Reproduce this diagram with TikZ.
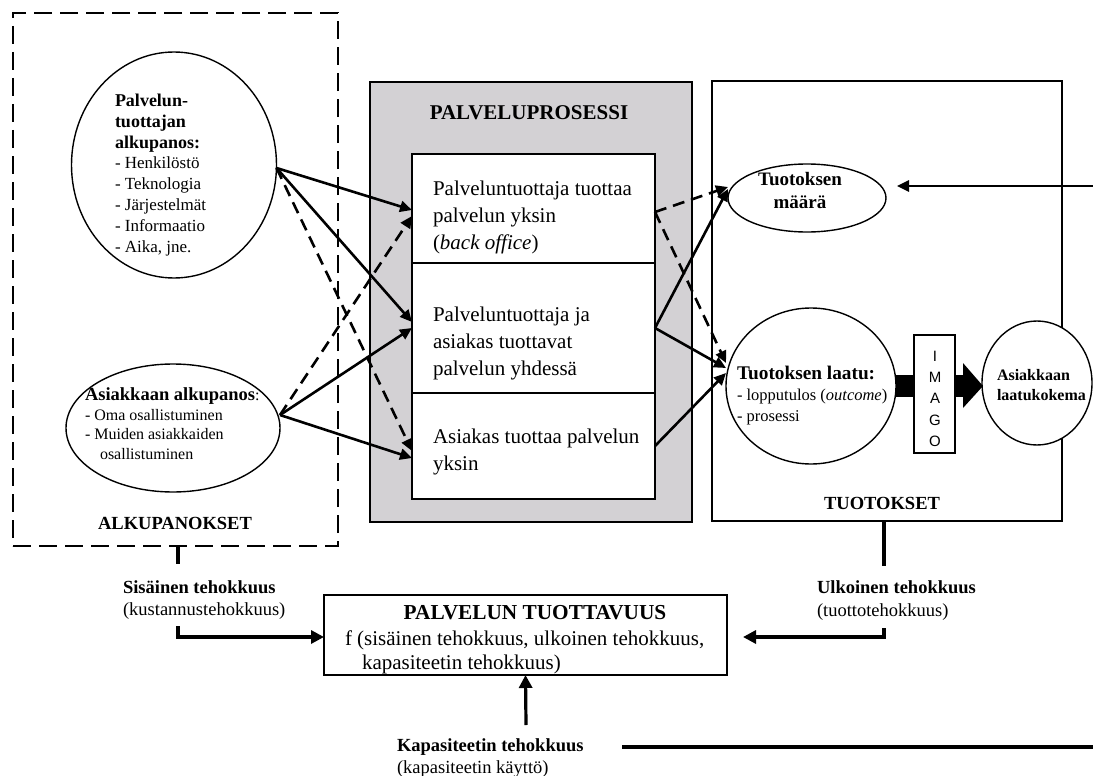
\documentclass[tikz,border=0pt]{standalone}
\usepackage{fontspec}
\setmainfont{Liberation Serif}
\newfontfamily\imagofont{Liberation Sans}
\usetikzlibrary{arrows.meta,shapes.geometric}
\definecolor{procgray}{RGB}{211,209,212}
\newcommand{\fsz}[2]{\fontsize{#1}{#2}\selectfont}
\begin{document}
\begin{tikzpicture}[x=1pt,y=-1pt,
  every node/.style={inner sep=0pt, outer sep=0pt},
  boxnode/.style={draw, rectangle, fill=white, line width=1.4pt},
  ell/.style={draw, ellipse, line width=1.4pt, fill=white, inner sep=0pt},
  conn/.style={line width=2.6pt, -{Triangle[length=12pt,width=11pt]}},
  dconn/.style={conn, dash pattern=on 12pt off 7pt},
  eff/.style={line width=3.2pt},
  effarrow/.style={eff, -{Triangle[length=13pt,width=13pt]}},
  lblb/.style={font=\fsz{18.5}{22}\bfseries, anchor=base west},
  lblr/.style={font=\fsz{18.5}{22}, anchor=base west},
  boxtext/.style={font=\fsz{21}{27}, anchor=north west, align=left},
]
\useasboundingbox (0,0) rectangle (1093,776);

% containers
\node[draw, rectangle, line width=2pt, dash pattern=on 18pt off 8pt,
      minimum width=325pt, minimum height=533pt] (alk) at (175.5,279.5) {};
\node[draw, rectangle, fill=procgray, line width=2pt,
      minimum width=322pt, minimum height=440pt] (proc) at (531,302) {};
\node[boxnode, minimum width=243pt, minimum height=109pt] (box1) at (533.5,208.5) {};
\node[boxnode, minimum width=243pt, minimum height=130pt] (box2) at (533.5,328) {};
\node[boxnode, minimum width=243pt, minimum height=106pt] (box3) at (533.5,446) {};
\node[draw, rectangle, line width=1.8pt,
      minimum width=350pt, minimum height=440pt] (tuot) at (887,301) {};

% ellipses
\node[ell, minimum width=205pt, minimum height=226pt] (e1) at (174,165) {};
\node[ell, minimum width=214pt, minimum height=128pt] (e2) at (173,428) {};
\node[ell, minimum width=158pt, minimum height=68pt] (maara) at (807,198) {};
\node[ell, minimum width=170pt, minimum height=156pt] (laatu) at (811,386) {};

% thick arrow through IMAGO
\fill (896,375) rectangle (964,397);
\fill (963,363) -- (983,386) -- (963,408) -- cycle;
\node[boxnode, minimum width=41pt, minimum height=118pt] (imago) at (934.5,394) {};
\node[ell, minimum width=110pt, minimum height=124pt] (lk) at (1037,383) {};

\node[draw, rectangle, line width=2.4pt, minimum width=403pt, minimum height=80pt] (prod) at (525.5,635) {};

% coordinates for free ends
\coordinate (rin) at (1093,186);
\coordinate (sstub) at (178,564);
\coordinate (sstart) at (178,626);
\coordinate (ustub) at (884,566);
\coordinate (ustart) at (884,628);
\coordinate (kstart) at (526,725);
\coordinate (kl1) at (622,747);
\coordinate (kl2) at (1093,747);

% left connectors
\draw[conn]  ([yshift=-3pt]e1.east) -- ([yshift=-1.5pt]box1.west);
\draw[conn]  ([yshift=-3pt]e1.east) -- ([yshift=6pt]box2.west);
\draw[dconn] ([yshift=-3pt]e1.east) -- ([yshift=-5pt]box3.west);
\draw[dconn] ([yshift=13pt]e2.east) -- ([yshift=-7.5pt]box1.west);
\draw[conn]  ([yshift=13pt]e2.east) -- (box2.west);
\draw[conn]  ([yshift=13pt]e2.east) -- ([yshift=-12pt]box3.west);

% right connectors
\draw[dconn] ([yshift=-3.5pt]box1.east) -- ([yshift=11pt]maara.west);
\draw[dconn] ([yshift=-3.5pt]box1.east) -- ([yshift=23pt]laatu.west);
\draw[conn]  (box2.east) -- ([yshift=9pt]maara.west);
\draw[conn]  (box2.east) -- ([yshift=18pt]laatu.west);
\draw[conn]  (box3.east) -- ([yshift=13pt]laatu.west);
\draw[conn]  (rin) -- ([xshift=11pt,yshift=12pt]maara.east);

% efficiency connectors
\draw[eff] ([xshift=2.5pt]alk.south) -- (sstub);
\draw[effarrow] (sstart) |- ([yshift=-2pt]prod.west);
\draw[eff] ([xshift=-3pt]tuot.south) -- (ustub);
\draw[effarrow] (ustart) |- ([xshift=16pt,yshift=-2pt]prod.east);
\draw[effarrow] (kstart) -- (prod.south);
\draw[eff] (kl1) -- (kl2);

% texts
\node[font=\fsz{21}{24}\bfseries, anchor=base] (ttl) at (529,120) {PALVELUPROSESSI};
\node[font=\fsz{18.5}{22}\bfseries, anchor=base] (alkt) at (175,529) {ALKUPANOKSET};
\node[font=\fsz{18.5}{22}\bfseries, anchor=base] (tuott) at (882,509) {TUOTOKSET};

\node[font=\fsz{17}{20.8}, anchor=north west, align=left] (te1) at (115,94)
  {{\fsz{18}{20.8}\bfseries Palvelun-}\\ {\fsz{18}{20.8}\bfseries tuottajan}\\ {\fsz{18}{20.8}\bfseries alkupanos:}\\
   - Henkilöstö\\ - Teknologia\\ - Järjestelmät\\ - Informaatio\\ - Aika, jne.};
\node[font=\fsz{16}{19.5}, anchor=north west, align=left] (te2) at (85,388)
  {{\fsz{18.5}{19.5}\bfseries Asiakkaan alkupanos}:\\ - Oma osallistuminen\\ - Muiden asiakkaiden\\ \hspace*{15pt}osallistuminen};

\node[boxtext] (tb1) at (433,181) {Palveluntuottaja tuottaa\\ palvelun yksin\\ (\textit{back office})};
\node[boxtext] (tb2) at (433,307) {Palveluntuottaja ja\\ asiakas tuottavat\\ palvelun yhdessä};
\node[boxtext] (tb3) at (433,429) {Asiakas tuottaa palvelun\\ yksin};

\node[font=\fsz{19}{23.5}\bfseries, anchor=north, align=center] (tm) at (800,172) {Tuotoksen\\ määrä};
\node[font=\fsz{16.5}{21}, anchor=north west, align=left] (tl) at (737,366)
  {{\fsz{19.3}{21}\bfseries Tuotoksen laatu:}\\ - lopputulos (\textit{outcome})\\ - prosessi};
\node[font=\fsz{16}{20}\bfseries, anchor=north west, align=left] (tlk) at (997,369) {Asiakkaan\\ laatukokema};
\node[font=\imagofont\fsz{15}{21.3}, anchor=north, align=center] (ti) at (935,351) {I\\ M\\ A\\ G\\ O};

\node[font=\fsz{21.3}{25}\bfseries, anchor=base] (tp1) at (535,619) {PALVELUN TUOTTAVUUS};
\node[font=\fsz{21}{25}, anchor=base west] (tp2) at (345,645) {f (sisäinen tehokkuus, ulkoinen tehokkuus,};
\node[font=\fsz{21}{25}, anchor=base west] (tp3) at (362,669) {kapasiteetin tehokkuus)};

\node[lblb] (sis1) at (123,593) {Sisäinen tehokkuus};
\node[lblr] (sis2) at (123,615) {(kustannustehokkuus)};
\node[lblb] (ulk1) at (817,593) {Ulkoinen tehokkuus};
\node[lblr] (ulk2) at (817,616) {(tuottotehokkuus)};
\node[lblb] (kap1) at (397,751) {Kapasiteetin tehokkuus};
\node[lblr] (kap2) at (397,773) {(kapasiteetin käyttö)};
\end{tikzpicture}
\end{document}
